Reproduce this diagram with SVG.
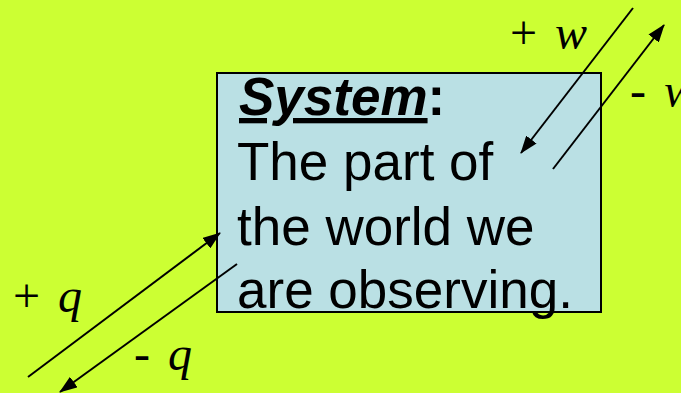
<svg xmlns="http://www.w3.org/2000/svg" width="681" height="393" viewBox="0 0 681 393">
<style>
.body{font-family:"Liberation Sans",Arial,sans-serif;font-size:53px;fill:#000}
.lab{font-family:"Liberation Serif","Times New Roman",serif;font-size:48px;fill:#000}
.conn line{stroke:#000;stroke-width:2}
</style>
<defs>
<marker id="ah" viewBox="0 0 18 13" refX="17" refY="6.5" markerWidth="18" markerHeight="13" markerUnits="userSpaceOnUse" orient="auto">
<path d="M0,0 L18,6.5 L0,13 Z" fill="#000"/>
</marker>
</defs>
<rect width="681" height="393" fill="#CCFF33"/>
<g id="system">
<rect x="217" y="73" width="384" height="239" fill="#BAE0E4" stroke="#000" stroke-width="2"/>
<text class="body" x="239" y="115"><tspan font-weight="bold" font-style="italic" text-decoration="underline">System</tspan><tspan font-weight="bold">:</tspan></text>
<text class="body" x="237" y="180">The part of</text>
<text class="body" x="237" y="245">the world we</text>
<text class="body" x="237" y="308">are observing.</text>
</g>
<g id="labels">
<text class="lab" x="510" y="49">+ <tspan font-style="italic" dx="6">w</tspan></text>
<text class="lab" x="630" y="107">- <tspan font-style="italic" dx="6">w</tspan></text>
<text class="lab" x="13" y="312">+ <tspan font-style="italic" dx="6">q</tspan></text>
<text class="lab" x="134" y="370">- <tspan font-style="italic" dx="6">q</tspan></text>
</g>
<g id="connectors" class="conn">
<line x1="633" y1="8" x2="521" y2="153" marker-end="url(#ah)"/>
<line x1="553" y1="169" x2="664" y2="25" marker-end="url(#ah)"/>
<line x1="28" y1="377" x2="220" y2="233" marker-end="url(#ah)"/>
<line x1="237" y1="264" x2="60" y2="392" marker-end="url(#ah)"/>
</g>
</svg>
